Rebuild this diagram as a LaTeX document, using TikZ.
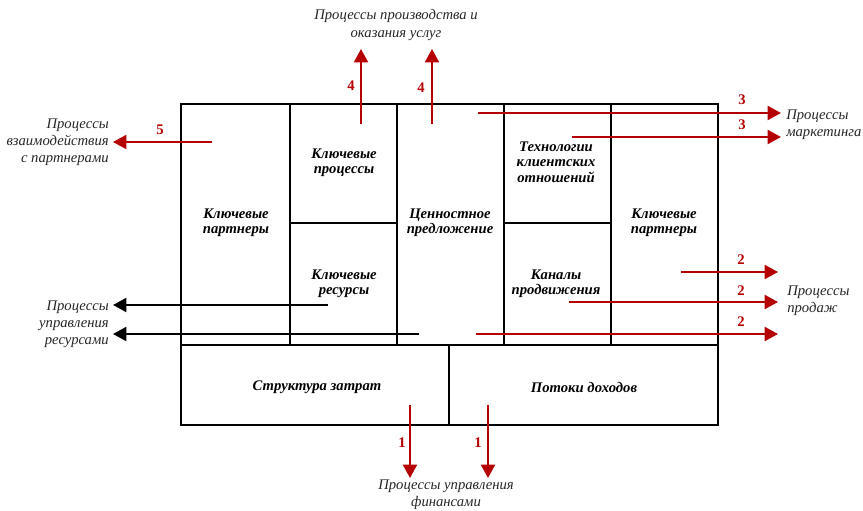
\documentclass[tikz,border=0pt]{standalone}
\usepackage{fontspec}
\setmainfont{Liberation Serif}
\usetikzlibrary{arrows.meta}
\definecolor{darkred}{RGB}{180,0,0}
\begin{document}
\begin{tikzpicture}[x=0.75pt,y=-0.75pt,
  grid/.style={line width=1.6pt,black},
  boxlabel/.style={font=\fontsize{11}{11.6}\selectfont\bfseries\itshape,align=center,inner sep=0pt},
  outlabel/.style={font=\fontsize{11}{12.8}\selectfont\itshape,inner sep=0pt,text=black!85},
  redarrow/.style={line width=1.5pt,darkred,-{Triangle[length=10pt,width=10.5pt]}},
  blackarrow/.style={line width=1.5pt,black,-{Triangle[length=10pt,width=10.5pt]}},
  num/.style={font=\fontsize{11}{12}\selectfont\bfseries,text=darkred,inner sep=0pt}]
\useasboundingbox (0,0) rectangle (863,510);
% grid
\draw[grid] (181,104) rectangle (718,425);
\draw[grid] (181,345) -- (718,345);
\draw[grid] (290,104) -- (290,345);
\draw[grid] (397,104) -- (397,345);
\draw[grid] (504,104) -- (504,345);
\draw[grid] (611,104) -- (611,345);
\draw[grid] (290,223) -- (397,223);
\draw[grid] (504,223) -- (611,223);
\draw[grid] (449,345) -- (449,425);
% box labels
\node[boxlabel] (kpl) at (236,223) {Ключевые\\партнеры};
\node[boxlabel] (kproc) at (344,163) {Ключевые\\процессы};
\node[boxlabel] (kres) at (344,284) {Ключевые\\ресурсы};
\node[boxlabel] (val) at (450,223) {Ценностное\\предложение};
\node[boxlabel] (tech) at (556,162) {Технологии\\клиентских\\отношений};
\node[boxlabel] (chan) at (556,284) {Каналы\\продвижения};
\node[boxlabel] (kpr) at (664,223) {Ключевые\\партнеры};
\node[boxlabel] (cost) at (317,387) {Структура затрат};
\node[boxlabel] (rev) at (584,387) {Потоки доходов};
% outer labels
\node[outlabel,align=center] (prod) at (396,25) {Процессы производства и\\оказания услуг};
\node[outlabel,align=right,anchor=east] (partn) at (109,142) {Процессы\\взаимодействия\\с партнерами};
\node[outlabel,align=right,anchor=east] (resm) at (109,324) {Процессы\\управления\\ресурсами};
\node[outlabel,align=left,anchor=west] (mark) at (786,125) {Процессы\\маркетинга};
\node[outlabel,align=left,anchor=west] (sales) at (787,301) {Процессы\\продаж};
\node[outlabel,align=center] (fin) at (446,495) {Процессы управления\\финансами};
% connector coordinates
\coordinate (p4a) at (361,124); \coordinate (t4a) at (361,49);
\coordinate (p4b) at (432,124); \coordinate (t4b) at (432,49);
\coordinate (p3a) at (478,113); \coordinate (t3a) at (781,113);
\coordinate (p3b) at (572,137); \coordinate (t3b) at (781,137);
\coordinate (p2a) at (681,272); \coordinate (t2a) at (778,272);
\coordinate (p2b) at (569,302); \coordinate (t2b) at (778,302);
\coordinate (p2c) at (476,334); \coordinate (t2c) at (778,334);
\coordinate (p5) at (212,142); \coordinate (t5) at (113,142);
\coordinate (pra) at (328,305); \coordinate (tra) at (113,305);
\coordinate (prb) at (419,334); \coordinate (trb) at (113,334);
\coordinate (p1a) at (410,405); \coordinate (t1a) at (410,478);
\coordinate (p1b) at (488,405); \coordinate (t1b) at (488,478);
% arrows
\draw[redarrow] (p4a) -- (t4a);
\draw[redarrow] (p4b) -- (t4b);
\draw[redarrow] (p3a) -- (t3a);
\draw[redarrow] (p3b) -- (t3b);
\draw[redarrow] (p2a) -- (t2a);
\draw[redarrow] (p2b) -- (t2b);
\draw[redarrow] (p2c) -- (t2c);
\draw[redarrow] (p5) -- (t5);
\draw[blackarrow] (pra) -- (tra);
\draw[blackarrow] (prb) -- (trb);
\draw[redarrow] (p1a) -- (t1a);
\draw[redarrow] (p1b) -- (t1b);
% numbers
\node[num] (n4a) at (351,86) {4};
\node[num] (n4b) at (421,88) {4};
\node[num] (n3a) at (742,100) {3};
\node[num] (n3b) at (742,125) {3};
\node[num] (n2a) at (741,260) {2};
\node[num] (n2b) at (741,291) {2};
\node[num] (n2c) at (741,322) {2};
\node[num] (n5) at (160,130) {5};
\node[num] (n1a) at (402,443) {1};
\node[num] (n1b) at (478,443) {1};
\end{tikzpicture}
\end{document}
